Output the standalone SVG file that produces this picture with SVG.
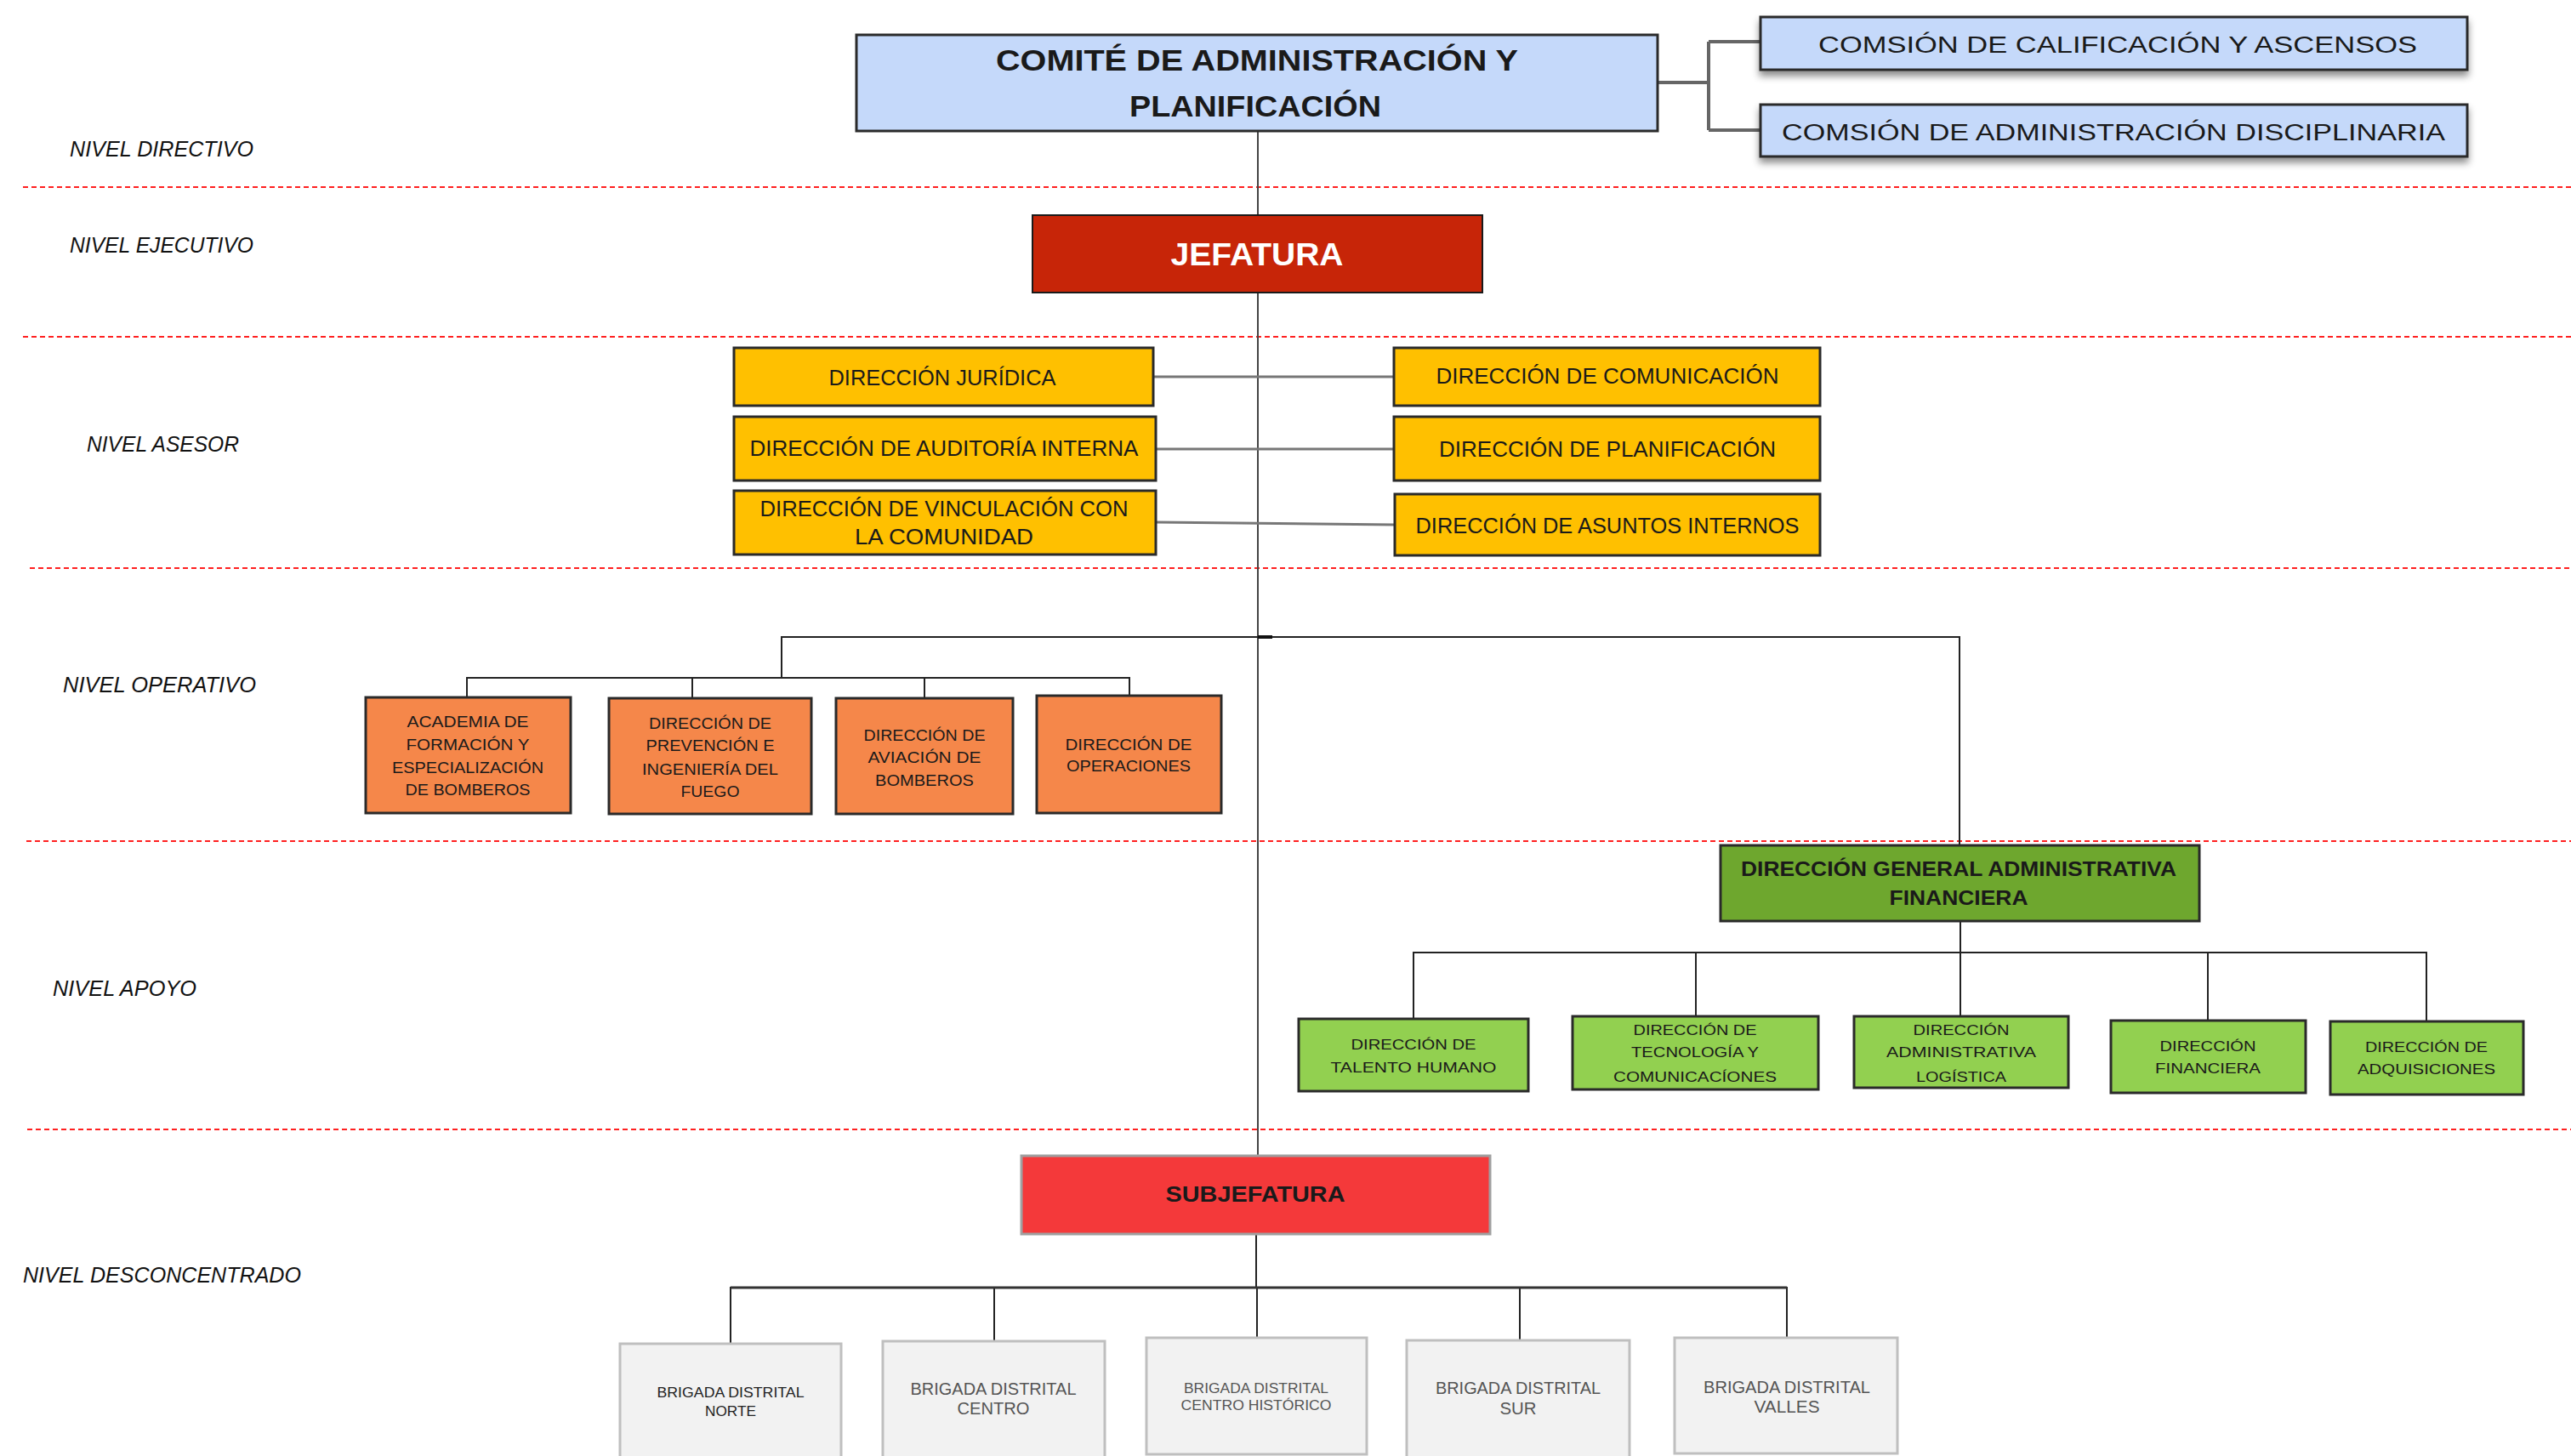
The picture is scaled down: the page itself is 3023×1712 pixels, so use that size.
<svg xmlns="http://www.w3.org/2000/svg" width="3023" height="1712" viewBox="0 0 3023 1712">
<style>
text{font-family:"Liberation Sans",Arial,sans-serif;text-anchor:middle;fill:#1a1a1a}
.lvl{font-style:italic;font-size:25px;text-anchor:start;fill:#111}
.sep{stroke:#ff2020;stroke-width:2;stroke-dasharray:6 4;fill:none}
.box{stroke:#2a2a2a;stroke-width:3}
.blue{fill:#c5d9fa}
.yel{fill:#ffc000}
.ora{fill:#f5874a}
.dg{fill:#6ea72e}
.lg{fill:#92d050}
.brig{fill:#f2f2f2;stroke:#bfbfbf;stroke-width:3}
.ln{stroke:#222;stroke-width:2;fill:none}
.gl{stroke:#666;stroke-width:4;fill:none}
.yl{stroke:#777;stroke-width:3;fill:none}
.t25{font-size:25px}
.t18{font-size:18px}
.t17{font-size:17px}
.tb{font-size:18px;fill:#555}
</style>
<defs>
<filter id="sh" x="-5%" y="-20%" width="110%" height="160%">
<feDropShadow dx="0" dy="6" stdDeviation="4" flood-color="#000" flood-opacity="0.45"/>
</filter>
</defs>
<rect width="3023" height="1712" fill="#fff"/>

<g id="separators">
<line class="sep" x1="27" y1="220" x2="3023" y2="220"/>
<line class="sep" x1="27" y1="396" x2="3023" y2="396"/>
<line class="sep" x1="35" y1="668" x2="3023" y2="668"/>
<line class="sep" x1="31" y1="989" x2="3023" y2="989"/>
<line class="sep" x1="32" y1="1328" x2="3023" y2="1328"/>
</g>

<g id="levels">
<text class="lvl" x="82" y="184" textLength="216" lengthAdjust="spacingAndGlyphs">NIVEL DIRECTIVO</text>
<text class="lvl" x="82" y="297" textLength="216" lengthAdjust="spacingAndGlyphs">NIVEL EJECUTIVO</text>
<text class="lvl" x="102" y="531" textLength="179" lengthAdjust="spacingAndGlyphs">NIVEL ASESOR</text>
<text class="lvl" x="74" y="814" textLength="227" lengthAdjust="spacingAndGlyphs">NIVEL OPERATIVO</text>
<text class="lvl" x="62" y="1171" textLength="169" lengthAdjust="spacingAndGlyphs">NIVEL APOYO</text>
<text class="lvl" x="27" y="1508" textLength="327" lengthAdjust="spacingAndGlyphs">NIVEL DESCONCENTRADO</text>
</g>

<g id="connectors">
<line x1="1479" y1="155" x2="1479" y2="1359" stroke="#444" stroke-width="2"/>
<path class="gl" d="M1949 97 H2009 M2009 49 V153 M2009 49 H2069 M2009 153 H2069"/>
<path class="yl" d="M1356 443 H1639 M1359 528 H1639 M1359 614 L1640 617"/>
<path class="ln" d="M1479 749 H919 V797 M549 820 V797 H1328 V818 M814 797 V821 M1087 797 V821 M1479 749 H2304 V994"/>
<path d="M1479 749 H1496" stroke="#111" stroke-width="4"/>
<path class="ln" d="M2305 1083 V1120 M1662 1198 V1120 H2853 V1201 M1994 1120 V1195 M2305 1120 V1195 M2596 1120 V1200"/>
<path class="ln" d="M1477 1451 V1514 M859 1580 V1514 H2101 V1573 M1169 1514 V1577 M1478 1514 V1573 M1787 1514 V1576"/>
<path d="M859 1514 H2101" stroke="#333" stroke-width="3"/>
</g>

<g id="comite">
<rect class="box blue" x="1007" y="41" width="942" height="113" stroke-width="2"/>
<text x="1478" y="83" font-size="35" font-weight="bold" textLength="614" lengthAdjust="spacingAndGlyphs">COMITÉ DE ADMINISTRACIÓN Y</text>
<text x="1476" y="137" font-size="35" font-weight="bold" textLength="296" lengthAdjust="spacingAndGlyphs">PLANIFICACIÓN</text>
</g>
<g id="comision1">
<rect class="box blue" x="2070" y="20" width="831" height="62" filter="url(#sh)"/>
<text x="2490" y="62" font-size="27" fill="#222" textLength="704" lengthAdjust="spacingAndGlyphs">COMSIÓN DE CALIFICACIÓN  Y ASCENSOS</text>
</g>
<g id="comision2">
<rect class="box blue" x="2070" y="123" width="831" height="61" filter="url(#sh)"/>
<text x="2485" y="165" font-size="27" fill="#222" textLength="780" lengthAdjust="spacingAndGlyphs">COMSIÓN DE ADMINISTRACIÓN DISCIPLINARIA</text>
</g>

<g id="jefatura">
<rect x="1214" y="253" width="529" height="91" fill="#c72508" stroke="#1a1a1a" stroke-width="2"/>
<text x="1478" y="312" font-size="37" font-weight="bold" fill="#fff" style="fill:#fff" textLength="203" lengthAdjust="spacingAndGlyphs">JEFATURA</text>
</g>

<g id="juridica">
<rect class="box yel" x="863" y="409" width="493" height="68"/>
<text class="t25" x="1108" y="453" textLength="267" lengthAdjust="spacingAndGlyphs">DIRECCIÓN JURÍDICA</text>
</g>
<g id="auditoria">
<rect class="box yel" x="863" y="490" width="496" height="75"/>
<text class="t25" x="1110" y="536" textLength="457" lengthAdjust="spacingAndGlyphs">DIRECCIÓN DE AUDITORÍA INTERNA</text>
</g>
<g id="vinculacion">
<rect class="box yel" x="863" y="577" width="496" height="75"/>
<text class="t25" x="1110" y="607" textLength="433" lengthAdjust="spacingAndGlyphs">DIRECCIÓN DE VINCULACIÓN CON</text>
<text class="t25" x="1110" y="640" textLength="210" lengthAdjust="spacingAndGlyphs">LA COMUNIDAD</text>
</g>
<g id="comunicacion">
<rect class="box yel" x="1639" y="409" width="501" height="68"/>
<text class="t25" x="1890" y="451" textLength="403" lengthAdjust="spacingAndGlyphs">DIRECCIÓN DE COMUNICACIÓN</text>
</g>
<g id="planificacion">
<rect class="box yel" x="1639" y="490" width="501" height="75"/>
<text class="t25" x="1890" y="537" textLength="396" lengthAdjust="spacingAndGlyphs">DIRECCIÓN DE  PLANIFICACIÓN</text>
</g>
<g id="asuntos">
<rect class="box yel" x="1640" y="581" width="500" height="72"/>
<text class="t25" x="1890" y="627" textLength="451" lengthAdjust="spacingAndGlyphs">DIRECCIÓN DE ASUNTOS INTERNOS</text>
</g>

<g id="academia">
<rect class="box ora" x="430" y="820" width="241" height="136"/>
<text class="t18" x="550" y="855" textLength="143" lengthAdjust="spacingAndGlyphs">ACADEMIA DE</text>
<text class="t18" x="550" y="882" textLength="145" lengthAdjust="spacingAndGlyphs">FORMACIÓN Y</text>
<text class="t18" x="550" y="909" textLength="178" lengthAdjust="spacingAndGlyphs">ESPECIALIZACIÓN</text>
<text class="t18" x="550" y="935" textLength="147" lengthAdjust="spacingAndGlyphs">DE BOMBEROS</text>
</g>
<g id="prevencion">
<rect class="box ora" x="716" y="821" width="238" height="136"/>
<text class="t18" x="835" y="857" textLength="144" lengthAdjust="spacingAndGlyphs">DIRECCIÓN DE</text>
<text class="t18" x="835" y="883" textLength="151" lengthAdjust="spacingAndGlyphs">PREVENCIÓN E</text>
<text class="t18" x="835" y="911" textLength="160" lengthAdjust="spacingAndGlyphs">INGENIERÍA DEL</text>
<text class="t18" x="835" y="937" textLength="69" lengthAdjust="spacingAndGlyphs">FUEGO</text>
</g>
<g id="aviacion">
<rect class="box ora" x="983" y="821" width="208" height="136"/>
<text class="t18" x="1087" y="871" textLength="143" lengthAdjust="spacingAndGlyphs">DIRECCIÓN DE</text>
<text class="t18" x="1087" y="897" textLength="133" lengthAdjust="spacingAndGlyphs">AVIACIÓN DE</text>
<text class="t18" x="1087" y="924" textLength="116" lengthAdjust="spacingAndGlyphs">BOMBEROS</text>
</g>
<g id="operaciones">
<rect class="box ora" x="1219" y="818" width="217" height="138"/>
<text class="t18" x="1327" y="882" textLength="149" lengthAdjust="spacingAndGlyphs">DIRECCIÓN  DE</text>
<text class="t18" x="1327" y="907" textLength="146" lengthAdjust="spacingAndGlyphs">OPERACIONES</text>
</g>

<g id="dg-admin">
<rect class="box dg" x="2023" y="994" width="563" height="89"/>
<text x="2303" y="1030" font-size="23" font-weight="bold" textLength="512" lengthAdjust="spacingAndGlyphs">DIRECCIÓN GENERAL ADMINISTRATIVA</text>
<text x="2303" y="1064" font-size="23" font-weight="bold" textLength="163" lengthAdjust="spacingAndGlyphs">FINANCIERA</text>
</g>
<g id="talento">
<rect class="box lg" x="1527" y="1198" width="270" height="85"/>
<text class="t17" x="1662" y="1234" textLength="147" lengthAdjust="spacingAndGlyphs">DIRECCIÓN DE</text>
<text class="t17" x="1662" y="1261" textLength="195" lengthAdjust="spacingAndGlyphs">TALENTO HUMANO</text>
</g>
<g id="tecnologia">
<rect class="box lg" x="1849" y="1195" width="289" height="86"/>
<text class="t17" x="1993" y="1217" textLength="145" lengthAdjust="spacingAndGlyphs">DIRECCIÓN DE</text>
<text class="t17" x="1993" y="1243" textLength="150" lengthAdjust="spacingAndGlyphs">TECNOLOGÍA Y</text>
<text class="t17" x="1993" y="1272" textLength="192" lengthAdjust="spacingAndGlyphs">COMUNICACÍONES</text>
</g>
<g id="logistica">
<rect class="box lg" x="2180" y="1195" width="252" height="84"/>
<text class="t17" x="2306" y="1217" textLength="113" lengthAdjust="spacingAndGlyphs">DIRECCIÓN</text>
<text class="t17" x="2306" y="1243" textLength="176" lengthAdjust="spacingAndGlyphs">ADMINISTRATIVA</text>
<text class="t17" x="2306" y="1272" textLength="106" lengthAdjust="spacingAndGlyphs">LOGÍSTICA</text>
</g>
<g id="financiera">
<rect class="box lg" x="2482" y="1200" width="229" height="85"/>
<text class="t17" x="2596" y="1236" textLength="113" lengthAdjust="spacingAndGlyphs">DIRECCIÓN</text>
<text class="t17" x="2596" y="1262" textLength="124" lengthAdjust="spacingAndGlyphs">FINANCIERA</text>
</g>
<g id="adquisiciones">
<rect class="box lg" x="2740" y="1201" width="227" height="86"/>
<text class="t17" x="2853" y="1237" textLength="144" lengthAdjust="spacingAndGlyphs">DIRECCIÓN DE</text>
<text class="t17" x="2853" y="1263" textLength="162" lengthAdjust="spacingAndGlyphs">ADQUISICIONES</text>
</g>

<g id="subjefatura">
<rect x="1201" y="1359" width="551" height="92" fill="#f4393a" stroke="#a0a0a0" stroke-width="3"/>
<text x="1476" y="1413" font-size="26" font-weight="bold" fill="#111" textLength="211" lengthAdjust="spacingAndGlyphs">SUBJEFATURA</text>
</g>

<g id="brigada-norte">
<rect class="brig" x="729" y="1580" width="260" height="140"/>
<text x="859" y="1643" font-size="17" style="fill:#222" textLength="173" lengthAdjust="spacingAndGlyphs">BRIGADA DISTRITAL</text>
<text x="859" y="1665" font-size="17" style="fill:#222" textLength="60" lengthAdjust="spacingAndGlyphs">NORTE</text>
</g>
<g id="brigada-centro">
<rect class="brig" x="1038" y="1577" width="261" height="143"/>
<text class="tb" x="1168" y="1640" font-size="20" style="font-size:20px" textLength="195" lengthAdjust="spacingAndGlyphs">BRIGADA DISTRITAL</text>
<text class="tb" x="1168" y="1663" style="font-size:20px" textLength="85" lengthAdjust="spacingAndGlyphs">CENTRO</text>
</g>
<g id="brigada-centro-historico">
<rect class="brig" x="1348" y="1573" width="259" height="137"/>
<text class="tb" x="1477" y="1638" style="font-size:16px" textLength="170" lengthAdjust="spacingAndGlyphs">BRIGADA DISTRITAL</text>
<text class="tb" x="1477" y="1658" style="font-size:16px" textLength="177" lengthAdjust="spacingAndGlyphs">CENTRO HISTÓRICO</text>
</g>
<g id="brigada-sur">
<rect class="brig" x="1654" y="1576" width="262" height="144"/>
<text class="tb" x="1785" y="1639" style="font-size:20px" textLength="194" lengthAdjust="spacingAndGlyphs">BRIGADA DISTRITAL</text>
<text class="tb" x="1785" y="1663" style="font-size:20px" textLength="43" lengthAdjust="spacingAndGlyphs">SUR</text>
</g>
<g id="brigada-valles">
<rect class="brig" x="1969" y="1573" width="262" height="136"/>
<text class="tb" x="2101" y="1638" style="font-size:20px" textLength="196" lengthAdjust="spacingAndGlyphs">BRIGADA DISTRITAL</text>
<text class="tb" x="2101" y="1661" style="font-size:20px" textLength="77" lengthAdjust="spacingAndGlyphs">VALLES</text>
</g>
</svg>
